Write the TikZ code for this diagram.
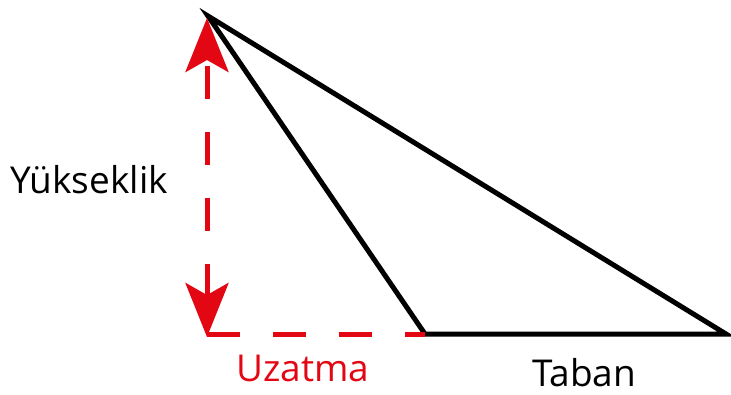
\documentclass[tikz,border=0pt]{standalone}
\usepackage{fontspec}
\setmainfont{Open Sans}
\usetikzlibrary{arrows.meta}
\definecolor{markred}{RGB}{227, 6, 19}

\begin{document}
\begin{tikzpicture}[
  x=1pt, y=-1pt,
  side/.style={line width=5pt, draw=black, line join=miter},
  guide/.style={line width=5pt, draw=markred, dash pattern=on 33pt off 33pt},
  heightarrow/.style={guide, {Stealth[length=54pt, width=43pt, inset=12pt]}-{Stealth[length=54pt, width=43pt, inset=12pt]}},
  tag/.style={font=\fontsize{37}{40}\selectfont, inner sep=0pt},
]
\useasboundingbox (0,0) rectangle (731,394);

% Corners
\coordinate (apex) at (208,16);
\coordinate (left) at (425,334);
\coordinate (right) at (726,334);
\coordinate (foot) at (207,334);
\coordinate (top) at (207,18);
\coordinate (bottom) at (207,337);

% Triangle
\draw[side] (apex) -- (left) -- (right) -- cycle;

% Height and extension
\draw[guide] (foot) -- (left);
\draw[heightarrow] (bottom) -- (top);

% Labels
\node[tag, anchor=base west] (height) at (10,193) {Yükseklik};
\node[tag, anchor=base west, text=markred] (ext) at (236,381) {Uzatma};
\node[tag, anchor=base west] (base) at (532,386) {Taban};

\end{tikzpicture}
\end{document}
